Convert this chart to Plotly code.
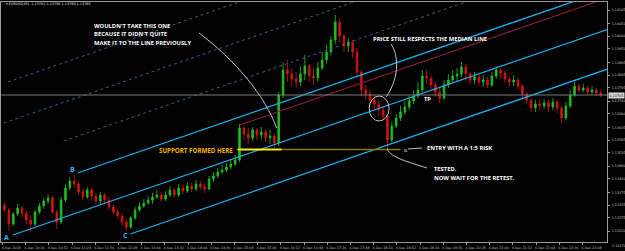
import plotly.graph_objects as go
import pandas as pd

# ---------------- data (EURUSD, 6 Dec 2018, bars of 6 minutes) ----------------
bar_start = "2018-12-06 09:51"      # centre of the first bar
bar_freq = "6min"
first_open = 1.13325
closes = [1.13305, 1.13249, 1.13289, 1.13313, 1.13293, 1.13265, 1.13249, 1.13297, 1.13321, 1.13341,
          1.13353, 1.13297, 1.13257, 1.13345, 1.13393, 1.13421, 1.13409, 1.13377, 1.13357, 1.13385,
          1.13361, 1.13341, 1.13365, 1.13345, 1.13317, 1.13297, 1.13281, 1.13257, 1.13237, 1.13273,
          1.13305, 1.13321, 1.13333, 1.13345, 1.13357, 1.13365, 1.13349, 1.13365, 1.13385, 1.13365,
          1.13393, 1.13381, 1.13401, 1.13389, 1.13409, 1.13397, 1.13389, 1.13429, 1.13441, 1.13457,
          1.13465, 1.13477, 1.13489, 1.13505, 1.13633, 1.13609, 1.13593, 1.13625, 1.13605, 1.13617,
          1.13593, 1.13601, 1.13573, 1.13765, 1.13865, 1.13849, 1.13829, 1.13817, 1.13849, 1.13881,
          1.13841, 1.13833, 1.13873, 1.13905, 1.13937, 1.13985, 1.14057, 1.14001, 1.13961, 1.13977,
          1.13937, 1.13857, 1.13785, 1.13769, 1.13745, 1.13729, 1.13705, 1.13681, 1.13585, 1.13641,
          1.13673, 1.13697, 1.13717, 1.13741, 1.13761, 1.13785, 1.13841, 1.13833, 1.13805, 1.13777,
          1.13753, 1.13805, 1.13825, 1.13841, 1.13849, 1.13877, 1.13849, 1.13825, 1.13837, 1.13817,
          1.13825, 1.13805, 1.13841, 1.13865, 1.13853, 1.13829, 1.13817, 1.13825, 1.13801, 1.13769,
          1.13745, 1.13713, 1.13729, 1.13721, 1.13733, 1.13717, 1.13737, 1.13713, 1.13673, 1.13721,
          1.13765, 1.13801, 1.13785, 1.13793, 1.13777, 1.13785, 1.13773, 1.13765]
highs = [1.13333, 1.13313, 1.13297, 1.13329, 1.13321, 1.13305, 1.13285, 1.13305, 1.13333, 1.13353,
         1.13369, 1.13361, 1.13305, 1.13357, 1.13409, 1.13437, 1.13445, 1.13417, 1.13393, 1.13397,
         1.13393, 1.13373, 1.13377, 1.13373, 1.13357, 1.13329, 1.13309, 1.13293, 1.13269, 1.13281,
         1.13317, 1.13337, 1.13349, 1.13361, 1.13373, 1.13385, 1.13377, 1.13381, 1.13401, 1.13393,
         1.13409, 1.13405, 1.13417, 1.13413, 1.13425, 1.13421, 1.13413, 1.13441, 1.13457, 1.13473,
         1.13485, 1.13493, 1.13509, 1.13525, 1.13649, 1.13641, 1.13633, 1.13637, 1.13633, 1.13637,
         1.13629, 1.13625, 1.13613, 1.13777, 1.13897, 1.13905, 1.13873, 1.13857, 1.13881, 1.13925,
         1.13889, 1.13873, 1.13897, 1.13937, 1.13965, 1.14001, 1.14085, 1.14073, 1.14009, 1.13993,
         1.13985, 1.13953, 1.13865, 1.13805, 1.13785, 1.13761, 1.13745, 1.13721, 1.13689, 1.13657,
         1.13689, 1.13721, 1.13741, 1.13761, 1.13785, 1.13817, 1.13865, 1.13865, 1.13841, 1.13817,
         1.13793, 1.13825, 1.13849, 1.13865, 1.13873, 1.13897, 1.13889, 1.13857, 1.13857, 1.13849,
         1.13845, 1.13837, 1.13857, 1.13881, 1.13873, 1.13861, 1.13841, 1.13845, 1.13833, 1.13809,
         1.13777, 1.13753, 1.13745, 1.13745, 1.13749, 1.13745, 1.13753, 1.13745, 1.13721, 1.13737,
         1.13785, 1.13817, 1.13809, 1.13809, 1.13801, 1.13801, 1.13793, 1.13785]
lows = [1.13297, 1.13221, 1.13241, 1.13281, 1.13273, 1.13249, 1.13217, 1.13241, 1.13289, 1.13309,
        1.13329, 1.13289, 1.13229, 1.13249, 1.13337, 1.13385, 1.13393, 1.13365, 1.13345, 1.13349,
        1.13345, 1.13329, 1.13329, 1.13329, 1.13305, 1.13289, 1.13269, 1.13241, 1.13221, 1.13229,
        1.13265, 1.13297, 1.13313, 1.13325, 1.13329, 1.13349, 1.13337, 1.13341, 1.13357, 1.13353,
        1.13357, 1.13369, 1.13373, 1.13377, 1.13381, 1.13385, 1.13373, 1.13385, 1.13417, 1.13433,
        1.13449, 1.13457, 1.13469, 1.13481, 1.13497, 1.13585, 1.13569, 1.13581, 1.13585, 1.13589,
        1.13577, 1.13569, 1.13553, 1.13561, 1.13753, 1.13817, 1.13801, 1.13793, 1.13801, 1.13825,
        1.13817, 1.13805, 1.13817, 1.13865, 1.13889, 1.13921, 1.13969, 1.13977, 1.13937, 1.13937,
        1.13913, 1.13833, 1.13761, 1.13745, 1.13729, 1.13705, 1.13681, 1.13665, 1.13549, 1.13577,
        1.13633, 1.13661, 1.13685, 1.13705, 1.13729, 1.13753, 1.13777, 1.13809, 1.13785, 1.13757,
        1.13733, 1.13745, 1.13793, 1.13809, 1.13817, 1.13837, 1.13825, 1.13809, 1.13809, 1.13801,
        1.13797, 1.13793, 1.13797, 1.13829, 1.13833, 1.13813, 1.13801, 1.13801, 1.13785, 1.13753,
        1.13729, 1.13697, 1.13697, 1.13705, 1.13709, 1.13697, 1.13705, 1.13693, 1.13653, 1.13665,
        1.13713, 1.13757, 1.13773, 1.13777, 1.13769, 1.13769, 1.13761, 1.13757]

# Andrews pitchfork anchors (A, B, C)
pf_labels = ["A", "B", "C"]
pf_times = ["2018-12-06 10:02:30", "2018-12-06 11:31:45", "2018-12-06 12:44:30"]
pf_prices = [1.13205, 1.13453, 1.13209]
# dotted warning lines and the red parallel: start time / start price
warn_times = ["2018-12-06 09:55:40", "2018-12-06 09:50:10", "2018-12-06 11:12:30"]
warn_prices = [1.13817, 1.13653, 1.13581]
red_time = "2018-12-06 15:15:24"
red_price = 1.13645
# support level
support_price = 1.13547
support_bright = ["2018-12-06 15:12", "2018-12-06 16:13"]
support_dark = ["2018-12-06 16:13", "2018-12-06 18:57"]

# axes
x_range = ["2018-12-06 09:46:05", "2018-12-06 23:41:42"]
y_range = [1.13177, 1.14137]
tick_times = ["2018-12-06 09:48", "2018-12-06 10:20", "2018-12-06 10:52", "2018-12-06 11:24",
              "2018-12-06 11:56", "2018-12-06 12:28", "2018-12-06 13:00", "2018-12-06 13:32",
              "2018-12-06 14:04", "2018-12-06 14:36", "2018-12-06 15:08", "2018-12-06 15:40",
              "2018-12-06 16:12", "2018-12-06 16:44", "2018-12-06 17:16", "2018-12-06 17:48",
              "2018-12-06 18:20", "2018-12-06 18:52", "2018-12-06 19:24", "2018-12-06 19:56",
              "2018-12-06 20:28", "2018-12-06 21:00", "2018-12-06 21:32", "2018-12-06 22:04",
              "2018-12-06 22:36", "2018-12-06 23:08"]
tick_labels = ["6 Dec 2018", "6 Dec 10:20", "6 Dec 10:52", "6 Dec 11:24", "6 Dec 11:56",
               "6 Dec 12:28", "6 Dec 13:00", "6 Dec 13:32", "6 Dec 14:04", "6 Dec 14:36",
               "6 Dec 15:08", "6 Dec 15:40", "6 Dec 16:12", "6 Dec 16:44", "6 Dec 17:16",
               "6 Dec 17:48", "6 Dec 18:20", "6 Dec 18:52", "6 Dec 19:24", "6 Dec 19:56",
               "6 Dec 20:28", "6 Dec 21:00", "6 Dec 21:32", "6 Dec 22:04", "6 Dec 22:36",
               "6 Dec 23:08"]
price_ticks = [1.14105, 1.14050, 1.14000, 1.13950, 1.13895, 1.13845, 1.13795, 1.13740,
               1.13690, 1.13635, 1.13585, 1.13535, 1.13480, 1.13430, 1.13375, 1.13325,
               1.13275, 1.13220]
bottom_tick = "1.13170"
title_text = "▾ EURUSD,M1  1.13782 1.13790 1.13760 1.13765"

# ---------------- figure ----------------
opens = [first_open] + closes[:-1]
times = pd.date_range(bar_start, periods=len(closes), freq=bar_freq)

CYAN = "#1fb0f2"
fig = go.Figure()
fig.add_trace(go.Candlestick(
    x=times, open=opens, high=highs, low=lows, close=closes,
    increasing=dict(line=dict(color="#1fc21f", width=0.8), fillcolor="#1fc21f"),
    decreasing=dict(line=dict(color="#d41414", width=0.8), fillcolor="#d41414"),
    whiskerwidth=0, hoverinfo="skip"))

t0 = pd.Timestamp("2018-12-06 09:48")
def mins(t):
    return (pd.Timestamp(t) - t0).total_seconds() / 60.0
def at(m):
    return t0 + pd.Timedelta(minutes=m)

tA, tB, tC = [mins(t) for t in pf_times]
pA, pB, pC = pf_prices
slope = ((pB + pC) / 2 - pA) / ((tB + tC) / 2 - tA)
t_far = 900.0

def ray(t_start, p_start, **line):
    fig.add_trace(go.Scatter(x=[at(t_start), at(t_far)],
                             y=[p_start, p_start + slope * (t_far - t_start)],
                             mode="lines", line=line, hoverinfo="skip"))

for t, p in zip(warn_times, warn_prices):
    ray(mins(t), p, color="#3b6a9c", width=0.9, dash="dot")
ray(mins(red_time), red_price, color="#8a1c3e", width=1.1)
ray(tA, pA, color=CYAN, width=1.3)
ray(tB, pB, color=CYAN, width=1.3)
ray(tC, pC, color=CYAN, width=1.3)

fig.add_trace(go.Scatter(x=support_dark, y=[support_price] * 2, mode="lines",
                         line=dict(color="#8c7600", width=1.6), hoverinfo="skip"))
fig.add_trace(go.Scatter(x=support_bright, y=[support_price] * 2, mode="lines",
                         line=dict(color="#ffe81a", width=2.2), hoverinfo="skip"))

# ---------------- decorations (paper coordinates of plot area) ----------------
W, H, TOP = 609.0, 240.0, 242.0
def X(px): return px / W
def Y(py): return (TOP - py) / H

shapes = []
# bid line
shapes.append(dict(type="line", xref="paper", x0=0, x1=1, yref="y", y0=closes[-1], y1=closes[-1],
                   line=dict(color="#7c7c7c", width=1)))
def path(pts):
    s = "M {:.5f},{:.5f} ".format(X(pts[0][0]), Y(pts[0][1]))
    s += "C " + " ".join("{:.5f},{:.5f}".format(X(a), Y(b)) for a, b in pts[1:])
    return s
GREY = "#c4c4c4"
shapes.append(dict(type="path", xref="paper", yref="paper",
                   path=path([(199, 33), (235, 60), (265, 95), (277, 128)]),
                   line=dict(color=GREY, width=1)))
shapes.append(dict(type="path", xref="paper", yref="paper",
                   path=path([(392, 44), (401, 58), (399, 80), (387, 97)]),
                   line=dict(color=GREY, width=1)))
shapes.append(dict(type="path", xref="paper", yref="paper",
                   path=path([(388, 149), (392, 158), (410, 162), (428, 168)]),
                   line=dict(color=GREY, width=1)))
shapes.append(dict(type="line", xref="paper", yref="paper", x0=X(409), x1=X(423), y0=Y(149), y1=Y(148),
                   line=dict(color=GREY, width=1)))
shapes.append(dict(type="circle", xref="paper", yref="paper", x0=X(370), x1=X(390), y0=Y(121), y1=Y(96),
                   line=dict(color=GREY, width=1)))

ann = []
def txt(px, py, s, size=5.8, color="white", anchor="left", family="Open Sans"):
    ann.append(dict(xref="paper", yref="paper", x=X(px), y=Y(py), text=s, showarrow=False,
                    xanchor=anchor, yanchor="middle", font=dict(family=family, size=size, color=color)))

txt(91, 26, "<b>WOULDN'T TAKE THIS ONE</b>")
txt(91, 34.5, "<b>BECAUSE IT DIDN'T QUITE</b>")
txt(91, 43, "<b>MAKE IT TO THE LINE PREVIOUSLY</b>")
txt(372, 39, "<b>PRICE STILL RESPECTS THE MEDIAN LINE</b>")
txt(423, 98.5, "<b>TP</b>")
txt(403, 150, "SL", size=3.6)
txt(426, 148, "<b>ENTRY WITH A 1:5 RISK</b>")
txt(433, 169, "<b>TESTED.</b>")
txt(433, 177.5, "<b>NOW WAIT FOR THE RETEST.</b>")
txt(157, 150, "<b>SUPPORT FORMED HERE</b>", size=6.2, color="#f2b600")
txt(3, 4, title_text, size=3.4, color="#e0e0e0", family="DejaVu Sans")

# pitchfork letters
for lab, t, p, dx, dy in zip(pf_labels, pf_times, pf_prices, [-6, -5, -5], [-2, 4, -1]):
    ann.append(dict(x=t, y=p, text="<b>" + lab + "</b>", showarrow=False, xshift=dx, yshift=dy,
                    font=dict(family="Open Sans", size=7, color="#2ab8ff")))

# current price label and bottom price label on the scale
ann.append(dict(xref="paper", yref="y", x=1.0, y=closes[-1], text="{:.5f}".format(closes[-1]),
                showarrow=False, xanchor="left", yanchor="middle", xshift=1, bgcolor="#d6d6d6",
                borderpad=0.6, font=dict(family="DejaVu Sans", size=3.3, color="black")))
ann.append(dict(xref="paper", yref="paper", x=1.0, y=Y(246), text=bottom_tick, showarrow=False,
                xanchor="left", yanchor="middle", xshift=3,
                font=dict(family="DejaVu Sans", size=3.3, color="#c8c8c8")))

fig.update_layout(
    width=625, height=251,
    margin=dict(l=0, r=16, t=2, b=9),
    paper_bgcolor="black", plot_bgcolor="black", boxgap=0.45,
    showlegend=False, shapes=shapes, annotations=ann,
    xaxis=dict(type="date", range=x_range, showgrid=False, zeroline=False,
               rangeslider=dict(visible=False), tickmode="array",
               tickvals=tick_times, ticktext=tick_labels,
               tickfont=dict(family="DejaVu Sans", size=3.3, color="#c8c8c8"),
               ticks="outside", ticklen=2, tickcolor="#9a9a9a", ticklabelshift=9,
               ticklabelstandoff=0,
               showline=True, linecolor="#9a9a9a", linewidth=1, mirror=True),
    yaxis=dict(side="right", range=y_range, showgrid=False, zeroline=False,
               tickmode="array", tickvals=price_ticks,
               ticktext=["{:.5f}".format(v) for v in price_ticks],
               tickfont=dict(family="DejaVu Sans", size=3.3, color="#c8c8c8"),
               ticks="outside", ticklen=2, tickcolor="#9a9a9a", ticklabelstandoff=1,
               showline=True, linecolor="#9a9a9a", linewidth=1, mirror=True),
)

fig.write_html("out.html")
